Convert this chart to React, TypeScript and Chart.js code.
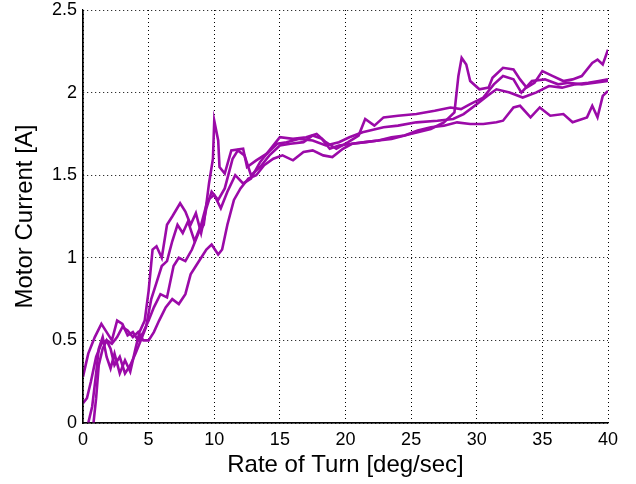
import React, { useEffect, useRef } from "react";
import { Chart, registerables } from "chart.js";

Chart.register(...registerables);

const xTicks = [0, 5, 10, 15, 20, 25, 30, 35, 40];
const yTicks = [0, 0.5, 1, 1.5, 2, 2.5];
const yTickLabels = ["0", "0.5", "1", "1.5", "2", "2.5"];
const xTitle = "Rate of Turn [deg/sec]";
const yTitle = "Motor Current [A]";

const runAX = [0,0.4,0.9,1.4,1.8,2.2,2.6,3.0,3.4,3.8,4.2,4.6,5.0,5.4,5.9,6.4,6.9,7.3,7.8,8.3,8.8,9.2,9.6,9.9,10.0,10.3,10.4,10.8,11.3,12.2,12.5,13.2,14.0,14.8,15.5,16.5,17.5,18.5,19.5,20.3,21.3,22.9,24,25.4,27,28.2,29,30,30.8,31.5,32.5,33.5,34.5,35.5,36.5,37.5,38.5,39.3,40];
const runAY = [0.28,0.42,0.52,0.6,0.55,0.5,0.62,0.6,0.53,0.55,0.5,0.55,0.62,0.7,0.78,0.76,0.95,1.0,0.98,1.05,1.15,1.2,1.45,1.6,1.83,1.71,1.55,1.51,1.65,1.66,1.55,1.59,1.63,1.69,1.7,1.72,1.71,1.68,1.7,1.73,1.76,1.79,1.8,1.82,1.83,1.84,1.87,1.93,1.98,2.02,2.0,1.97,2.0,2.04,2.03,2.05,2.06,2.07,2.08];

const runBX = [0.4,0.7,1.0,1.2,1.5,1.8,2.1,2.4,2.8,3.2,3.6,4.0,4.3,4.7,5.0,5.3,5.6,6.0,6.4,6.8,7.4,7.8,8.2,8.6,9.0,9.4,9.8,10.3,10.8,11.4,11.8,12.3,12.8,13.5,14.2,15,15.8,16.8,17.5,18.2,18.8,19.5,20.5,21.5,22.5,23.5,24.5,25.5,26.5,27.5,28.3,28.6,28.85,29.2,29.5,30.2,30.9,31.2,32,32.8,33.3,33.8,34.4,35,35.8,36.6,37.3,38.0,38.8,39.2,39.6,40];
const runBY = [0,0.1,0.3,0.45,0.52,0.4,0.33,0.42,0.3,0.38,0.31,0.45,0.55,0.62,0.8,1.05,1.07,1.0,1.2,1.25,1.33,1.28,1.2,1.27,1.15,1.3,1.4,1.35,1.42,1.6,1.65,1.62,1.5,1.55,1.62,1.68,1.69,1.7,1.74,1.72,1.66,1.68,1.69,1.7,1.71,1.73,1.74,1.76,1.78,1.82,1.88,2.1,2.21,2.17,2.07,2.02,2.03,2.09,2.15,2.14,2.08,2.03,2.06,2.13,2.1,2.07,2.08,2.1,2.18,2.2,2.17,2.26];

const runCX = [0,0.3,0.6,1.0,1.4,1.8,2.2,2.6,3.0,3.4,3.8,4.2,4.6,5.0,5.4,5.8,6.3,6.8,7.3,7.8,8.2,8.6,9.0,9.4,9.8,10.3,10.6,11.0,11.5,12.0,12.6,13.2,13.8,14.5,15.2,16.0,16.8,17.5,18.3,19.0,19.8,20.5,21.5,22.5,23.5,24.5,25.5,26.5,27.5,28.5,29.5,30.5,31.5,32,32.8,33.3,34.1,34.8,35.6,36.6,37.3,38.4,38.8,39.2,39.6,40];
const runCY = [0.12,0.15,0.25,0.4,0.48,0.5,0.48,0.52,0.58,0.56,0.52,0.55,0.5,0.5,0.55,0.62,0.7,0.75,0.72,0.78,0.9,0.95,1.0,1.05,1.08,1.02,1.05,1.2,1.35,1.42,1.48,1.5,1.56,1.6,1.62,1.59,1.64,1.65,1.62,1.61,1.66,1.69,1.7,1.71,1.72,1.74,1.77,1.79,1.8,1.82,1.81,1.81,1.82,1.83,1.91,1.92,1.85,1.91,1.86,1.87,1.82,1.85,1.92,1.85,1.98,2.01];

const runDX = [0.8,1.0,1.2,1.5,1.8,2.1,2.4,2.8,3.2,3.6,4.0,4.4,4.8,5.2,5.6,6.0,6.4,6.8,7.2,7.6,8.0,8.5,9.0,9.5,10.0,10.5,11.0,11.6,12.2,12.8,13.5,14.2,15.0,16.0,17.0,17.8,18.5,19.3,20.2,21.0,21.5,22.2,22.9,24.0,25.4,26.8,28.0,28.8,29.5,30.5,31.3,32.0,32.8,33.4,34.2,35.2,36.2,37.0,38.0,39.0,40];
const runDY = [0,0.15,0.35,0.45,0.5,0.45,0.35,0.4,0.3,0.35,0.42,0.5,0.58,0.75,0.85,0.95,0.98,1.1,1.2,1.15,1.22,1.1,1.2,1.35,1.38,1.3,1.4,1.5,1.45,1.48,1.58,1.65,1.73,1.72,1.73,1.75,1.7,1.66,1.7,1.74,1.84,1.8,1.85,1.86,1.87,1.89,1.91,1.9,1.93,1.97,2.05,2.1,2.08,2.0,2.07,2.08,2.05,2.06,2.05,2.06,2.07];

const LINE_COLOR = "#9b0aa8";
const FONT = "'Liberation Sans', Arial, Helvetica, sans-serif";

function toPoints(xs: number[], ys: number[]) {
  return xs.map((x, i) => ({ x, y: ys[i] }));
}

export default function App() {
  const ref = useRef<HTMLCanvasElement | null>(null);

  useEffect(() => {
    document.body.style.margin = "0";
    const canvas = ref.current;
    if (!canvas) return;
    const mk = (xs: number[], ys: number[]) => ({
      data: toPoints(xs, ys),
      showLine: true,
      borderColor: LINE_COLOR,
      backgroundColor: LINE_COLOR,
      borderWidth: 2.6,
      pointRadius: 0,
      tension: 0,
      fill: false,
    });
    const chart = new Chart(canvas, {
      type: "scatter",
      data: {
        datasets: [mk(runAX, runAY), mk(runBX, runBY), mk(runCX, runCY), mk(runDX, runDY)],
      },
      options: {
        animation: false,
        responsive: false,
        maintainAspectRatio: false,
        layout: { padding: { left: 0, right: 28, top: 10, bottom: 0 } },
        plugins: { legend: { display: false }, tooltip: { enabled: false } },
        scales: {
          x: {
            type: "linear",
            min: 0,
            max: 40,
            afterBuildTicks: (s: any) => {
              s.ticks = xTicks.map((v) => ({ value: v }));
            },
            afterFit: (s: any) => {
              s.height = 61;
              s.paddingLeft = 0;
              s.paddingRight = 0;
            },
            ticks: {
              color: "#000",
              font: { family: FONT, size: 18 },
              padding: 6,
              maxRotation: 0,
              callback: (v: any) => String(v),
            },
            grid: {
              color: "#000",
              lineWidth: 1,
              drawTicks: false,
            },
            border: { display: true, color: "#000", width: 1.2, dash: [1, 3] },
            title: {
              display: true,
              text: xTitle,
              color: "#000",
              font: { family: FONT, size: 24 },
              padding: { top: 0, bottom: 4 },
            },
          },
          y: {
            type: "linear",
            min: 0,
            max: 2.5,
            afterBuildTicks: (s: any) => {
              s.ticks = yTicks.map((v) => ({ value: v }));
            },
            afterFit: (s: any) => {
              s.width = 83;
              s.paddingTop = 0;
              s.paddingBottom = 0;
            },
            ticks: {
              color: "#000",
              font: { family: FONT, size: 18 },
              padding: 6,
              callback: (v: any) => {
                const i = yTicks.indexOf(Number(v));
                return i >= 0 ? yTickLabels[i] : "";
              },
            },
            grid: {
              color: "#000",
              lineWidth: 1,
              drawTicks: false,
            },
            border: { display: true, color: "#000", width: 1.2, dash: [1, 3] },
            title: {
              display: true,
              text: yTitle,
              color: "#000",
              font: { family: FONT, size: 24 },
              padding: { top: 11, bottom: 0 },
            },
          },
        },
      },
      plugins: [
        {
          id: "axesSolid",
          afterDraw: (c: any) => {
            const { ctx, chartArea } = c;
            ctx.save();
            ctx.strokeStyle = "#000";
            ctx.lineWidth = 1.2;
            ctx.setLineDash([]);
            ctx.beginPath();
            ctx.moveTo(chartArea.left, chartArea.top);
            ctx.lineTo(chartArea.left, chartArea.bottom);
            ctx.lineTo(chartArea.right, chartArea.bottom);
            ctx.stroke();
            ctx.restore();
          },
        },
      ],
    } as any);
    return () => chart.destroy();
  }, []);

  return <canvas ref={ref} width={636} height={484} style={{ display: "block" }} />;
}
